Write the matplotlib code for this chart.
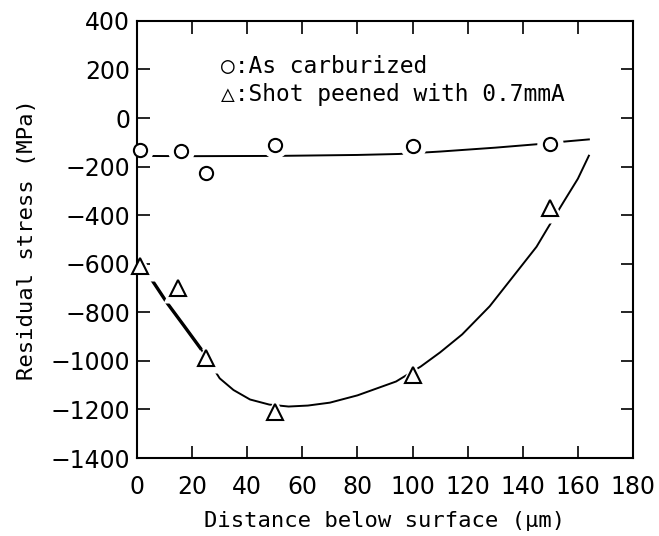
import matplotlib
matplotlib.use('Agg')
import matplotlib.pyplot as plt

# measured points
carb_x = [1, 16, 25, 50, 100, 150]
carb_y = [-130, -135, -228, -110, -115, -105]
shot_x = [1, 15, 25, 50, 100, 150]
shot_y = [-610, -700, -990, -1212, -1058, -372]

# fitted curves
carb_curve_x = [0, 20, 50, 80, 95, 110, 130, 145, 156, 164]
carb_curve_y = [-156, -157, -156, -152, -148, -138, -122, -108, -96, -88]
shot_curve_x = [0, 4, 11, 17, 23, 30, 35, 41, 48, 55, 62, 70, 80, 94, 103, 110, 118, 128, 138, 145, 149, 155, 160, 164]
shot_curve_y = [-600, -643, -763, -855, -948, -1072, -1120, -1159, -1180, -1188, -1184, -1172, -1142, -1085, -1023, -965, -891, -775, -631, -530, -454, -342, -250, -155]

xticks = list(range(0, 181, 20))
yticks = list(range(-1400, 401, 200))

plt.rcParams['font.family'] = ['DejaVu Sans']
fig = plt.figure(figsize=(6.59, 5.36), dpi=100)
ax = fig.add_axes([0.208, 0.1455, 0.7525, 0.8155])

ax.plot(carb_curve_x, carb_curve_y, color='black', lw=1.4, zorder=2)
ax.plot(shot_curve_x, shot_curve_y, color='black', lw=1.4, zorder=2)
ax.plot(shot_curve_x[1:5], shot_curve_y[1:5], color='black', lw=2.4, zorder=2)

# white halos so the lines break around the markers
ax.plot(carb_x, carb_y, ls='none', marker='o', ms=19, mfc='white', mec='none', zorder=2.2)
ax.plot(shot_x, shot_y, ls='none', marker='^', ms=21, mfc='white', mec='none', zorder=2.2)

ax.plot(carb_x, carb_y, ls='none', marker='o', ms=9.5, mfc='white', mec='black', mew=1.5, zorder=3, clip_on=False)
ax.plot(shot_x, shot_y, ls='none', marker='^', ms=11, mfc='white', mec='black', mew=1.5, zorder=3, clip_on=False)

ax.set_xlim(0, 180)
ax.set_ylim(-1400, 400)
ax.set_xticks(xticks)
ax.set_yticks(yticks)
ax.tick_params(direction='in', length=9, width=1.2, top=True, right=True, labelsize=17)
ax.tick_params(axis='x', pad=12)
ax.tick_params(axis='y', pad=5)
for s in ax.spines.values():
    s.set_linewidth(1.5)
    s.set_zorder(2.5)

mono = ['DejaVu Sans Mono', 'DejaVu Sans']
ax.set_xlabel('Distance below surface (\u00b5m)', family=mono, fontsize=16, labelpad=9)
ax.set_ylabel('Residual stress (MPa)', family=mono, fontsize=16, labelpad=10)

ax.text(0.17, 0.896, '\u25cb:As carburized', transform=ax.transAxes, family=mono, fontsize=16.5, va='center')
ax.text(0.17, 0.831, '\u25b3:Shot peened with 0.7mmA', transform=ax.transAxes, family=mono, fontsize=16.5, va='center')

fig.savefig('out.png', dpi=100)
